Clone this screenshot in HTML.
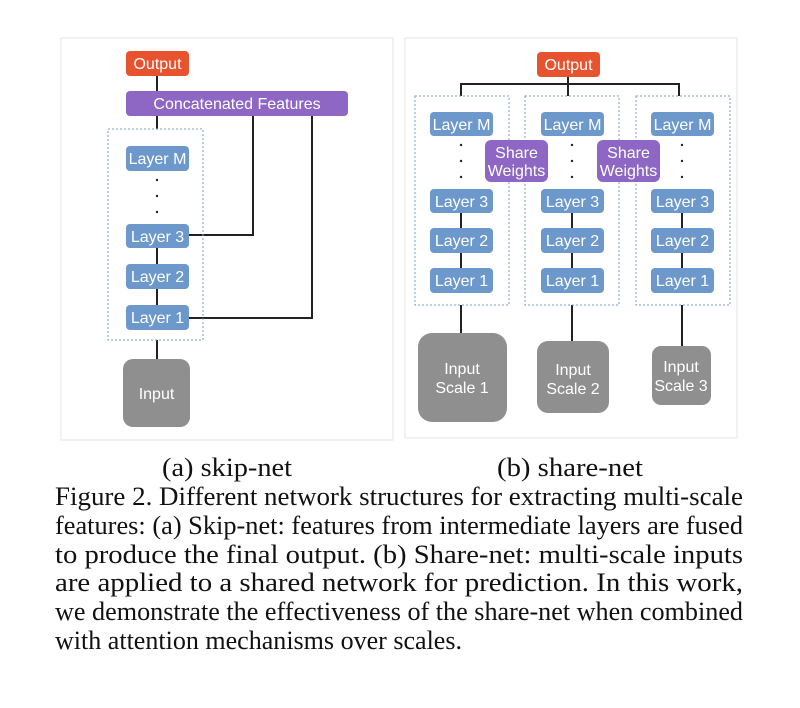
<!DOCTYPE html>
<html><head><meta charset="utf-8"><style>
html,body{margin:0;padding:0;background:#fff;}
svg{display:block}
.b{font-family:"Liberation Sans",sans-serif;font-size:16px;fill:#fff;text-anchor:middle}
.s{font-family:"Liberation Serif",serif;font-size:26px;fill:#111}
</style></head><body>
<svg width="800" height="708" viewBox="0 0 800 708" xmlns="http://www.w3.org/2000/svg">
<rect x="61" y="38" width="332" height="402" fill="#fff" stroke="#e6e6e6"/>
<rect x="405" y="38" width="332" height="400" fill="#fff" stroke="#e6e6e6"/>
<g stroke="#222" stroke-width="2" fill="none">
<line x1="157" y1="76" x2="157" y2="91"/>
<line x1="157" y1="116" x2="157" y2="129"/>
<line x1="157" y1="248" x2="157" y2="264"/>
<line x1="157" y1="289" x2="157" y2="305"/>
<line x1="157" y1="340" x2="157" y2="359"/>
<polyline points="189,235 253,235 253,116"/>
<polyline points="189,318 312,318 312,116"/>
<line x1="568" y1="77" x2="568" y2="96"/>
<polyline points="461,96 461,84 679,84 679,96"/>
<line x1="461" y1="213" x2="461" y2="268"/>
<line x1="572" y1="213" x2="572" y2="268"/>
<line x1="682" y1="213" x2="682" y2="268"/>
<line x1="461" y1="305" x2="461" y2="333"/>
<line x1="572" y1="305" x2="572" y2="341"/>
<line x1="682" y1="305" x2="682" y2="346"/>
</g>
<g stroke="#7a9ccc" stroke-width="1" stroke-dasharray="2,2" fill="none">
<rect x="108" y="129" width="95" height="211"/>
<rect x="415" y="96" width="94" height="209"/>
<rect x="525" y="96" width="94" height="209"/>
<rect x="636" y="96" width="94" height="209"/>
</g>
<rect x="126" y="51" width="63" height="25" rx="4" fill="#e8532f"/><text class="b" x="157.5" y="69">Output</text>
<rect x="126" y="91" width="222" height="25" rx="4" fill="#8e67c5"/><text class="b" x="237" y="109">Concatenated Features</text>
<g fill="#6c98cc">
<rect x="126" y="146" width="63" height="25" rx="4"/><rect x="126" y="224" width="63" height="24" rx="4"/>
<rect x="126" y="264" width="63" height="25" rx="4"/><rect x="126" y="305" width="63" height="25" rx="4"/>
</g>
<text class="b" x="157.5" y="164">Layer M</text><text class="b" x="157.5" y="242">Layer 3</text>
<text class="b" x="157.5" y="282">Layer 2</text><text class="b" x="157.5" y="323">Layer 1</text>
<g fill="#222"><circle cx="157" cy="180" r="1.2"/><circle cx="157" cy="196" r="1.2"/><circle cx="157" cy="212" r="1.2"/></g>
<rect x="123" y="359" width="67" height="68" rx="10" fill="#8f8f8f"/><text class="b" x="156.5" y="399">Input</text>

<rect x="537" y="52" width="63" height="25" rx="4" fill="#e8532f"/><text class="b" x="568.5" y="70">Output</text>
<g fill="#6c98cc">
<rect x="430" y="112" width="63" height="24" rx="4"/><rect x="430" y="189" width="63" height="24" rx="4"/><rect x="430" y="228" width="63" height="25" rx="4"/><rect x="430" y="268" width="63" height="25" rx="4"/>
<rect x="541" y="112" width="63" height="24" rx="4"/><rect x="541" y="189" width="63" height="24" rx="4"/><rect x="541" y="228" width="63" height="25" rx="4"/><rect x="541" y="268" width="63" height="25" rx="4"/>
<rect x="651" y="112" width="63" height="24" rx="4"/><rect x="651" y="189" width="63" height="24" rx="4"/><rect x="651" y="228" width="63" height="25" rx="4"/><rect x="651" y="268" width="63" height="25" rx="4"/>
</g>
<g>
<text class="b" x="461.5" y="130">Layer M</text><text class="b" x="461.5" y="207">Layer 3</text><text class="b" x="461.5" y="246">Layer 2</text><text class="b" x="461.5" y="286">Layer 1</text>
<text class="b" x="572.5" y="130">Layer M</text><text class="b" x="572.5" y="207">Layer 3</text><text class="b" x="572.5" y="246">Layer 2</text><text class="b" x="572.5" y="286">Layer 1</text>
<text class="b" x="682.5" y="130">Layer M</text><text class="b" x="682.5" y="207">Layer 3</text><text class="b" x="682.5" y="246">Layer 2</text><text class="b" x="682.5" y="286">Layer 1</text>
</g>
<g fill="#222">
<circle cx="461" cy="145" r="1.2"/><circle cx="461" cy="161" r="1.2"/><circle cx="461" cy="177" r="1.2"/>
<circle cx="572" cy="145" r="1.2"/><circle cx="572" cy="161" r="1.2"/><circle cx="572" cy="177" r="1.2"/>
<circle cx="682" cy="145" r="1.2"/><circle cx="682" cy="161" r="1.2"/><circle cx="682" cy="177" r="1.2"/>
</g>
<rect x="485" y="140" width="63" height="42" rx="6" fill="#8e67c5"/><text class="b" x="516.5" y="158">Share</text><text class="b" x="516.5" y="176">Weights</text>
<rect x="597" y="140" width="63" height="42" rx="6" fill="#8e67c5"/><text class="b" x="628.5" y="158">Share</text><text class="b" x="628.5" y="176">Weights</text>
<g fill="#8f8f8f">
<rect x="418" y="333" width="89" height="89" rx="14"/>
<rect x="537" y="341" width="72" height="72" rx="11"/>
<rect x="652" y="346" width="59" height="59" rx="9"/>
</g>
<text class="b" x="462" y="374">Input</text><text class="b" x="462" y="393">Scale 1</text>
<text class="b" x="573" y="375">Input</text><text class="b" x="573" y="394">Scale 2</text>
<text class="b" x="681" y="372">Input</text><text class="b" x="681" y="391">Scale 3</text>

<text class="s" x="162" y="476" textLength="130" lengthAdjust="spacingAndGlyphs">(a) skip-net</text>
<text class="s" x="497" y="476" textLength="146" lengthAdjust="spacingAndGlyphs">(b) share-net</text>
<text class="s" x="55" y="505" textLength="688" lengthAdjust="spacingAndGlyphs">Figure 2. Different network structures for extracting multi-scale</text>
<text class="s" x="55" y="534" textLength="688" lengthAdjust="spacingAndGlyphs">features: (a) Skip-net: features from intermediate layers are fused</text>
<text class="s" x="55" y="563" textLength="688" lengthAdjust="spacingAndGlyphs">to produce the final output.  (b) Share-net:  multi-scale inputs</text>
<text class="s" x="55" y="591" textLength="688" lengthAdjust="spacingAndGlyphs">are applied to a shared network for prediction.  In this work,</text>
<text class="s" x="55" y="620" textLength="688" lengthAdjust="spacingAndGlyphs">we demonstrate the effectiveness of the share-net when combined</text>
<text class="s" x="55" y="649" textLength="407" lengthAdjust="spacingAndGlyphs">with attention mechanisms over scales.</text>
</svg>
</body></html>
